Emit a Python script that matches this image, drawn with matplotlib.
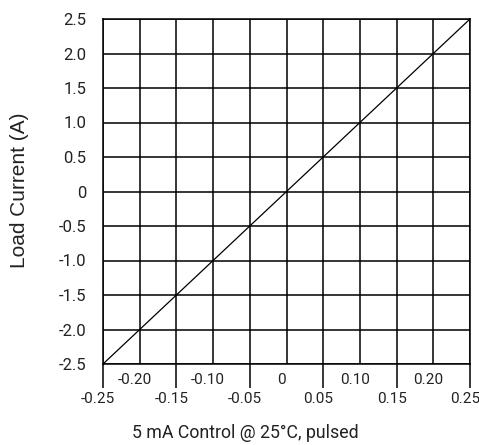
import matplotlib
matplotlib.use("Agg")
import matplotlib.pyplot as plt
from matplotlib.transforms import ScaledTranslation
import numpy as np

# Data
control = [-0.25, 0.25]
load_current = [-2.5, 2.5]
x_major = [-0.25, -0.15, -0.05, 0.05, 0.15, 0.25]
x_major_labels = ["-0.25", "-0.15", "-0.05", "0.05", "0.15", "0.25"]
x_minor = [-0.20, -0.10, 0.0, 0.10, 0.20]
x_minor_labels = ["-0.20", "-0.10", "0", "0.10", "0.20"]
y_ticks = [-2.5, -2.0, -1.5, -1.0, -0.5, 0, 0.5, 1.0, 1.5, 2.0, 2.5]
y_labels = ["-2.5", "-2.0", "-1.5", "-1.0", "-0.5", "0", "0.5", "1.0", "1.5", "2.0", "2.5"]

plt.rcParams['font.family'] = ['Roboto', 'DejaVu Sans']
TXT = '#222222'

fig = plt.figure(figsize=(4.79, 4.45), dpi=100)
ax = fig.add_axes([103/479, (445-364)/445, (470-103)/479, (364-19)/445])

ax.plot(control, load_current, color='black', lw=0.9, zorder=3, clip_on=False)
ax.set_xlim(-0.25, 0.25)
ax.set_ylim(-2.5, 2.5)

ax.set_xticks(x_major)
ax.set_xticks(x_minor, minor=True)
ax.tick_params(axis='x', which='major', length=17, width=1.1, direction='out',
               labelbottom=False, color='black')
ax.tick_params(axis='x', which='minor', length=0, labelbottom=False)
ax.set_yticks(y_ticks)
ax.set_yticklabels(y_labels, fontsize=12, color=TXT)
ax.tick_params(axis='y', length=0, pad=12)

ax.grid(True, which='both', color='black', lw=1.1)
ax.set_axisbelow(True)
for s in ax.spines.values():
    s.set_color('black')
    s.set_linewidth(1.1)

off = ScaledTranslation(-5/100, 0, fig.dpi_scale_trans)
tr = ax.get_xaxis_transform() + off
for x, lab in zip(x_minor, x_minor_labels):
    ax.text(x, -16/345, lab, transform=tr, ha='center', va='center', fontsize=11, color=TXT)
for x, lab in zip(x_major, x_major_labels):
    ax.text(x, -35/345, lab, transform=tr, ha='center', va='center', fontsize=11, color=TXT)

fig.text(245/479, 1-433/445, "5 mA Control @ 25°C, pulsed", ha='center', va='center',
         fontsize=12.8, color=TXT)
fig.text(20/479, 1-190/445, "Load Current (A)", ha='center', va='center',
         rotation=90, fontsize=15, color=TXT, family=['Liberation Sans', 'DejaVu Sans'])

fig.savefig("out.png", dpi=100)
